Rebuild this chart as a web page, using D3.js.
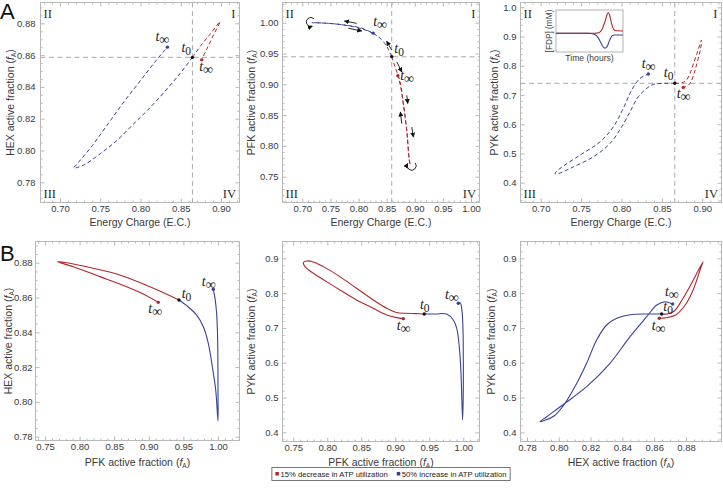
<!DOCTYPE html>
<html><head><meta charset="utf-8">
<script src="https://cdn.jsdelivr.net/npm/d3@7/dist/d3.min.js"></script>
<style>body{margin:0;background:#fff}svg{display:block}</style>
</head><body>
<svg id="c" width="723" height="491"></svg>
<script>
// ---------------- DATA ----------------
// Panel A1: Energy charge vs HEX active fraction
const a1Blue = [[0.8645,0.8586],[0.850,0.849],[0.830,0.837],[0.810,0.826],[0.790,0.816],[0.770,0.806],[0.750,0.798],[0.730,0.791],[0.717,0.789],[0.722,0.792],[0.740,0.803],[0.760,0.817],[0.780,0.831],[0.800,0.844],[0.820,0.857],[0.8334,0.865]];
const a1Red  = [[0.8645,0.8586],[0.875,0.866],[0.887,0.8735],[0.8988,0.881],[0.890,0.872],[0.882,0.8635],[0.876,0.857]];
const a1Cross = [0.8645,0.8586];
// Panel A2: Energy charge vs PFK active fraction
const a2Blue = [[0.859,0.945],[0.853,0.957],[0.847,0.966],[0.838,0.975],[0.829,0.981],[0.806,0.991],[0.776,0.996],[0.746,0.999],[0.717,1.000],[0.746,0.999],[0.776,0.996],[0.806,0.990],[0.826,0.983]];
const a2Red  = [[0.859,0.945],[0.865,0.928],[0.874,0.904],[0.880,0.866],[0.886,0.8225],[0.890,0.779],[0.892,0.769],[0.890,0.779],[0.886,0.8225],[0.880,0.866],[0.874,0.900],[0.870,0.914]];
const a2Cross = [0.859,0.9446];
const a2Arrows = [[[0.7968,0.9990],[0.7747,1.0027]],[[0.7819,0.9909],[0.8057,0.9865]],[[0.859,0.9555],[0.850,0.970]],[[0.868,0.9365],[0.877,0.920]],[[0.8858,0.882],[0.8875,0.8687]],[[0.8769,0.836],[0.8744,0.855]],[[0.8947,0.8306],[0.8975,0.8143]]];
// Panel A3: Energy charge vs PYK active fraction
const a3Blue = [[0.866,0.740],[0.853,0.740],[0.8394,0.7363],[0.8312,0.7226],[0.8208,0.6938],[0.8105,0.6425],[0.8002,0.5911],[0.7858,0.5342],[0.7651,0.4884],[0.7403,0.4541],[0.7218,0.4315],[0.7177,0.4315],[0.7239,0.4486],[0.7486,0.4942],[0.7734,0.5397],[0.7899,0.5911],[0.8022,0.6541],[0.8126,0.7168],[0.8229,0.7568],[0.8332,0.7716]];
const a3Red  = [[0.866,0.740],[0.874,0.741],[0.880,0.750],[0.885,0.775],[0.890,0.815],[0.895,0.855],[0.899,0.888],[0.898,0.860],[0.894,0.815],[0.890,0.775],[0.886,0.745],[0.882,0.732],[0.8765,0.726]];
const a3Cross = [0.866,0.740];
// Inset: [FDP] vs time
const insetRedT  = [0,5,5.8,6.4,6.9,7.3,7.6,7.8,8.0,8.3,8.6,9.0,10];
const insetRedV  = [0.445,0.445,0.447,0.46,0.55,0.72,0.88,0.94,0.88,0.68,0.54,0.505,0.5];
const insetBlueT = [0,4.8,5.6,6.2,6.7,7.0,7.3,7.6,8.0,8.4,8.8,10];
const insetBlueV = [0.445,0.445,0.43,0.36,0.22,0.13,0.09,0.12,0.28,0.39,0.405,0.405];
// Panel B1: PFK vs HEX
const b1Red  = [[0.9436,0.8586],[0.9017,0.8662],[0.8536,0.8735],[0.8053,0.8781],[0.7813,0.8800],[0.7678,0.8806],[0.7909,0.8777],[0.8295,0.8720],[0.868,0.8662],[0.892,0.862],[0.9137,0.8572]];
const b1Blue = [[0.9436,0.8586],[0.9548,0.8553],[0.9692,0.8499],[0.9788,0.8432],[0.986,0.8337],[0.9918,0.8202],[0.9967,0.8068],[1.0,0.789],[1.0,0.807],[0.9998,0.826],[0.9993,0.839],[0.998,0.851],[0.9957,0.8595],[0.9932,0.8647]];
// Panel B2: PFK vs PYK
const b2Red  = [[0.9426,0.740],[0.930,0.741],[0.915,0.742],[0.902,0.744],[0.8873,0.7563],[0.8676,0.7803],[0.8431,0.8138],[0.8186,0.8473],[0.7941,0.8761],[0.7794,0.8895],[0.7696,0.8923],[0.7647,0.8875],[0.7672,0.876],[0.7794,0.8569],[0.799,0.833],[0.8186,0.809],[0.8431,0.7803],[0.8676,0.7563],[0.8873,0.7372],[0.902,0.7295],[0.9118,0.7266]];
const b2Blue = [[0.9426,0.740],[0.960,0.740],[0.9755,0.740],[0.9853,0.7228],[0.9902,0.700],[0.9941,0.6461],[0.9966,0.5695],[0.999,0.4354],[1.0,0.52],[1.0,0.62],[0.9995,0.70],[0.998,0.75],[0.9955,0.772],[0.9926,0.7707]];
// Panel B3: HEX vs PYK
const b3Blue = [[0.8647,0.740],[0.8553,0.740],[0.8448,0.738],[0.8364,0.7276],[0.8301,0.7083],[0.8238,0.6652],[0.8175,0.5983],[0.8113,0.5408],[0.8039,0.4833],[0.797,0.447],[0.7882,0.4305],[0.7924,0.4448],[0.8039,0.4833],[0.8175,0.5311],[0.8322,0.5983],[0.8448,0.6747],[0.8553,0.7322],[0.8616,0.7658],[0.8668,0.7753],[0.8716,0.7687]];
const b3Red  = [[0.8647,0.740],[0.8679,0.740],[0.8725,0.748],[0.8775,0.7802],[0.8835,0.8282],[0.8907,0.8902],[0.8892,0.8713],[0.8845,0.8089],[0.8795,0.7658],[0.8735,0.7371],[0.8675,0.7293],[0.8632,0.7276]];
// Tick values
const ticksEC5   = [0.70,0.75,0.80,0.85,0.90];
const ticksEC7   = [0.70,0.75,0.80,0.85,0.90,0.95,1.00];
const ticksHEX   = [0.78,0.80,0.82,0.84,0.86,0.88];
const ticksPFKa  = [0.75,0.80,0.85,0.90,0.95,1.00];
const ticksPYKa  = [0.4,0.5,0.6,0.7,0.8,0.9,1.0];
const ticksPYKb  = [0.4,0.5,0.6,0.7,0.8,0.9];
const legendLabels = ["15% decrease in ATP utilization","50% increase in ATP utilization"];

// ---------------- STYLE ----------------
const FRAME='#b8b8b8', TXT='#3a3a3a', RED='#b1272d', BLUE='#3a4198', CROSS='#aaaaaa';
const SANS='"Liberation Sans", Arial, Helvetica, sans-serif';
const SERIF='"Liberation Serif","DejaVu Serif","Times New Roman",serif';
const svg=d3.select('#c');
const defs=svg.append('defs');
defs.append('marker').attr('id','ah').attr('markerUnits','userSpaceOnUse').attr('markerWidth',5).attr('markerHeight',5)
 .attr('refX',4.5).attr('refY',2.5).attr('orient','auto').append('path').attr('d','M0,0 L5,2.5 L0,5 z').attr('fill','#111');
const f2=d3.format('.2f'), f1=d3.format('.1f');

function yTitle(g,x,y,name){
  const t=g.append('text').attr('transform',`translate(${x},${y}) rotate(-90)`).attr('text-anchor','middle')
   .style('font-family',SANS).style('font-size','10.5px').attr('fill',TXT);
  t.append('tspan').text(name+' active fraction (');
  t.append('tspan').style('font-style','italic').text('f');
  t.append('tspan').style('font-size','6.5px').attr('dy',2).text('A');
  t.append('tspan').attr('dy',-2).text(')');
}
function xTitle(g,x,y,name){
  const t=g.append('text').attr('x',x).attr('y',y).attr('text-anchor','middle')
   .style('font-family',SANS).style('font-size','10.5px').attr('fill',TXT);
  if(name==='EC'){t.text('Energy Charge (E.C.)');return;}
  t.append('tspan').text(name+' active fraction (');
  t.append('tspan').style('font-style','italic').text('f');
  t.append('tspan').style('font-size','6.5px').attr('dy',2).text('A');
  t.append('tspan').attr('dy',-2).text(')');
}

function panel(c){
  const x=d3.scaleLinear().domain(c.xd).range(c.xr);
  const y=d3.scaleLinear().domain(c.yd).range(c.yr);
  const g=svg.append('g');
  const {L,R,T,B}=c;
  const minors=(lo,hi,step,majors)=>{const out=[];for(let i=Math.ceil(lo/step);i*step<=hi;i++){const v=+(i*step).toFixed(6);if(!majors.some(m=>Math.abs(m-v)<step/10))out.push(v);}return out;};
  const xm=minors(Math.min(x.invert(L),x.invert(R)),Math.max(x.invert(L),x.invert(R)),c.xms,c.xt);
  const ym=minors(Math.min(y.invert(B),y.invert(T)),Math.max(y.invert(B),y.invert(T)),c.yms,c.yt);
  const style=s=>{s.select('.domain').remove();s.selectAll('line').attr('stroke',FRAME).attr('stroke-width',1);
    s.selectAll('text').attr('fill',TXT).style('font-family',SANS).style('font-size','9.5px');};
  const add=(axis,tr)=>g.append('g').attr('transform',tr).call(axis).call(style);
  add(d3.axisBottom(x).tickValues(c.xt).tickSize(-4).tickPadding(3).tickFormat(c.xf),`translate(0,${B})`);
  add(d3.axisBottom(x).tickValues(xm).tickSize(-2).tickFormat(''),`translate(0,${B})`);
  add(d3.axisTop(x).tickValues(c.xt).tickSize(-4).tickFormat(''),`translate(0,${T})`);
  add(d3.axisTop(x).tickValues(xm).tickSize(-2).tickFormat(''),`translate(0,${T})`);
  add(d3.axisLeft(y).tickValues(c.yt).tickSize(-4).tickPadding(c.yp||4).tickFormat(c.yf),`translate(${L},0)`);
  add(d3.axisLeft(y).tickValues(ym).tickSize(-2).tickFormat(''),`translate(${L},0)`);
  add(d3.axisRight(y).tickValues(c.yt).tickSize(-4).tickFormat(''),`translate(${R},0)`);
  add(d3.axisRight(y).tickValues(ym).tickSize(-2).tickFormat(''),`translate(${R},0)`);
  g.append('rect').attr('x',L).attr('y',T).attr('width',R-L).attr('height',B-T).attr('fill','none').attr('stroke',FRAME).attr('stroke-width',1);
  xTitle(g,(L+R)/2,B+c.xto,c.xn);
  yTitle(g,L-c.yto,(T+B)/2,c.yn);
  return {g,x,y,c};
}
const line=(p)=>d3.line().x(d=>p.x(d[0])).y(d=>p.y(d[1])).curve(d3.curveCatmullRom.alpha(0.5));
function curve(p,data,color,dashed){
  p.g.append('path').attr('d',line(p)(data)).attr('fill','none').attr('stroke',color).attr('stroke-width',dashed?1:1.1)
   .attr('stroke-dasharray',dashed?'4,2.6':null);
}
function dot(p,d,color){p.g.append('circle').attr('cx',p.x(d[0])).attr('cy',p.y(d[1])).attr('r',1.7).attr('fill',color);}
function tlab(p,d,sub,dx,dy){
  const t=p.g.append('text').attr('x',p.x(d[0])+dx).attr('y',p.y(d[1])+dy).style('font-family',SERIF).style('font-size','14px').attr('fill','#1a1a1a');
  t.append('tspan').style('font-style','italic').text('t');
  t.append('tspan').attr('dy',3).style('font-size',sub==='∞'?'14px':'11.5px').text(sub);
}
function cross(p,cv){
  const {L,R,T,B}=p.c;
  p.g.append('line').attr('x1',p.x(cv[0])).attr('x2',p.x(cv[0])).attr('y1',T).attr('y2',B).attr('stroke',CROSS).attr('stroke-dasharray','5,3.5');
  p.g.append('line').attr('x1',L).attr('x2',R).attr('y1',p.y(cv[1])).attr('y2',p.y(cv[1])).attr('stroke',CROSS).attr('stroke-dasharray','5,3.5');
}
function roman(p){
  const {L,R,T,B}=p.c;
  const r=(s,x,y,a)=>p.g.append('text').attr('x',x).attr('y',y).attr('text-anchor',a).style('font-family',SERIF).style('font-size','12.5px').attr('fill','#2a2a2a').text(s);
  r('II',L+3,T+15,'start');r('I',R-4,T+15,'end');r('III',L+3,B-5,'start');r('IV',R-3.5,B-5,'end');
}

// ---------------- PANELS ----------------
const A1=panel({L:40.5,R:239.5,T:2.5,B:202.5,xd:[0.70,0.90],xr:[60,221],yd:[0.78,0.88],yr:[182.3,23.3],xt:ticksEC5,yt:ticksHEX,xms:0.01,yms:0.005,xf:f2,yf:f2,xn:'EC',yn:'HEX',xto:23.5,yto:26.5,yp:5});
const A2=panel({L:282.5,R:479.5,T:2.5,B:202.5,xd:[0.70,1.00],xr:[302.3,471],yd:[0.75,1.00],yr:[176.7,22.7],xt:ticksEC7,yt:ticksPFKa,xms:0.01,yms:0.01,xf:f2,yf:f2,xn:'EC',yn:'PFK',xto:23.5,yto:28,yp:4});
const A3=panel({L:520.5,R:721.5,T:2.5,B:202.5,xd:[0.70,0.90],xr:[540.7,702.3],yd:[0.4,1.0],yr:[182.7,7.3],xt:ticksEC5,yt:ticksPYKa,xms:0.01,yms:0.02,xf:f2,yf:f1,xn:'EC',yn:'PYK',xto:23.5,yto:23,yp:4});
const B1=panel({L:35.5,R:239.5,T:241.5,B:440.5,xd:[0.75,1.00],xr:[45,218],yd:[0.78,0.88],yr:[436.7,262.7],xt:ticksPFKa,yt:ticksHEX,xms:0.01,yms:0.005,xf:f2,yf:f2,xn:'PFK',yn:'HEX',xto:25,yto:24,yp:3});
const B2=panel({L:282.5,R:479.5,T:241.5,B:441.5,xd:[0.75,1.00],xr:[293.3,463.3],yd:[0.4,0.9],yr:[432.3,258.3],xt:ticksPFKa,yt:ticksPYKb,xms:0.01,yms:0.02,xf:f2,yf:f1,xn:'PFK',yn:'PYK',xto:24.5,yto:28,yp:4});
const B3=panel({L:520.5,R:721.5,T:241.5,B:441.5,xd:[0.78,0.88],xr:[527,686],yd:[0.4,0.9],yr:[432.3,258.3],xt:ticksHEX,yt:ticksPYKb,xms:0.005,yms:0.02,xf:f2,yf:f1,xn:'HEX',yn:'PYK',xto:24.5,yto:26,yp:4});

// A row: crosshairs, roman numerals, dashed trajectories
[[A1,a1Cross],[A2,a2Cross],[A3,a3Cross]].forEach(([p,cv])=>{cross(p,cv);roman(p);});
curve(A1,a1Blue,BLUE,true);curve(A1,a1Red,RED,true);
curve(A2,a2Blue,BLUE,true);curve(A2,a2Red,RED,true);
curve(A3,a3Blue,BLUE,true);curve(A3,a3Red,RED,true);
// B row
curve(B1,b1Red,RED,false);curve(B1,b1Blue,BLUE,false);
curve(B2,b2Red,RED,false);curve(B2,b2Blue,BLUE,false);
curve(B3,b3Blue,BLUE,false);curve(B3,b3Red,RED,false);

// endpoints and labels
const labelCfg=[
 [A1,a1Blue,a1Red,[-12,-6],[-11,-5],[-2.5,11]],
 [A2,a2Blue,a2Red,[0,-7],[2.6,-4],[2.3,4.5]],
 [A3,a3Blue,a3Red,[-6.6,-6],[-11,-6],[-6.6,11]],
 [B1,b1Blue,b1Red,[-11.5,-3],[2.7,-2],[-10,11]],
 [B2,b2Blue,b2Red,[-13.3,-4],[-4.3,-5],[-6.6,11]],
 [B3,b3Blue,b3Red,[-7.7,-8],[1.6,-3],[-7.6,12]]
];
labelCfg.forEach(([p,bl,rd,ob,o0,or])=>{
  const bE=bl[bl.length-1], rE=rd[rd.length-1], t0=bl[0];
  dot(p,bE,BLUE);dot(p,rE,RED);dot(p,t0,'#111');
  tlab(p,bE,'∞',ob[0],ob[1]);tlab(p,t0,'0',o0[0],o0[1]);tlab(p,rE,'∞',or[0],or[1]);
});

// A2 direction arrows
a2Arrows.forEach(a=>{
  A2.g.append('line').attr('x1',A2.x(a[0][0])).attr('y1',A2.y(a[0][1])).attr('x2',A2.x(a[1][0])).attr('y2',A2.y(a[1][1]))
   .attr('stroke','#111').attr('stroke-width',0.9).attr('marker-end','url(#ah)');
});
// U-turn curls at the far ends of the A2 trajectories
const redTip=a2Red[6], blueTip=a2Blue[8];
A2.g.append('path').attr('transform',`translate(${A2.x(redTip[0])+1},${A2.y(redTip[1])+1})`)
  .attr('d','M4,-3 A4.5 4.5 0 1 1 -3.5,-2.5').attr('fill','none').attr('stroke','#111').attr('stroke-width',0.9).attr('marker-end','url(#ah)');
A2.g.append('path').attr('transform',`translate(${A2.x(blueTip[0])-2},${A2.y(blueTip[1])})`)
  .attr('d','M4,-4 A4.5 4.5 0 1 0 2.5,3.5').attr('fill','none').attr('stroke','#111').attr('stroke-width',0.9).attr('marker-end','url(#ah)');

// Inset in A3
const ix=d3.scaleLinear().domain([0,10]).range([556,623]);
const iy=d3.scaleLinear().domain([0,1]).range([52,10]);
const ig=A3.g.append('g');
ig.append('rect').attr('x',556).attr('y',10).attr('width',67).attr('height',42).attr('fill','#fff').attr('stroke','#a0a0a0').attr('stroke-width',0.8);
const il=d3.line().x(d=>ix(d[0])).y(d=>iy(d[1])).curve(d3.curveMonotoneX);
ig.append('path').attr('d',il(insetRedT.map((t,i)=>[t,insetRedV[i]]))).attr('fill','none').attr('stroke',RED).attr('stroke-width',1.1);
ig.append('path').attr('d',il(insetBlueT.map((t,i)=>[t,insetBlueV[i]]))).attr('fill','none').attr('stroke',BLUE).attr('stroke-width',1.1);
ig.append('text').attr('x',589.5).attr('y',61).attr('text-anchor','middle').style('font-family',SANS).style('font-size','8.6px').attr('fill',TXT).text('Time (hours)');
ig.append('text').attr('transform','translate(552,31) rotate(-90)').attr('text-anchor','middle').style('font-family',SANS).style('font-size','8.3px').attr('fill',TXT).text('[FDP] (mM)');

// Panel letters
svg.append('text').attr('x',0).attr('y',19).style('font-family',SANS).style('font-size','22px').attr('fill','#111').text('A');
svg.append('text').attr('x',0).attr('y',261).style('font-family',SANS).style('font-size','22px').attr('fill','#111').text('B');

// Legend
const lg=svg.append('g');
const lt=legendLabels.map(s=>lg.append('text').style('font-family',SANS).style('font-size','7.7px').attr('fill','#222').attr('y',477).text(s));
const w=lt.map(t=>t.node().getComputedTextLength());
const sq=3.5, pad=3.5, gap=9;
const total=pad+sq+1.5+w[0]+gap+sq+1.5+w[1]+pad;
const lx0=391-total/2;
lg.insert('rect','text').attr('x',lx0).attr('y',467.5).attr('width',total).attr('height',13).attr('fill','#fff').attr('stroke','#555').attr('stroke-width',0.8);
let cx=lx0+pad;
[RED,BLUE].forEach((col,i)=>{
  lg.append('rect').attr('x',cx).attr('y',472).attr('width',sq).attr('height',sq).attr('fill',col);
  cx+=sq+1.5; lt[i].attr('x',cx); cx+=w[i]+gap;
});
</script>
</body></html>
